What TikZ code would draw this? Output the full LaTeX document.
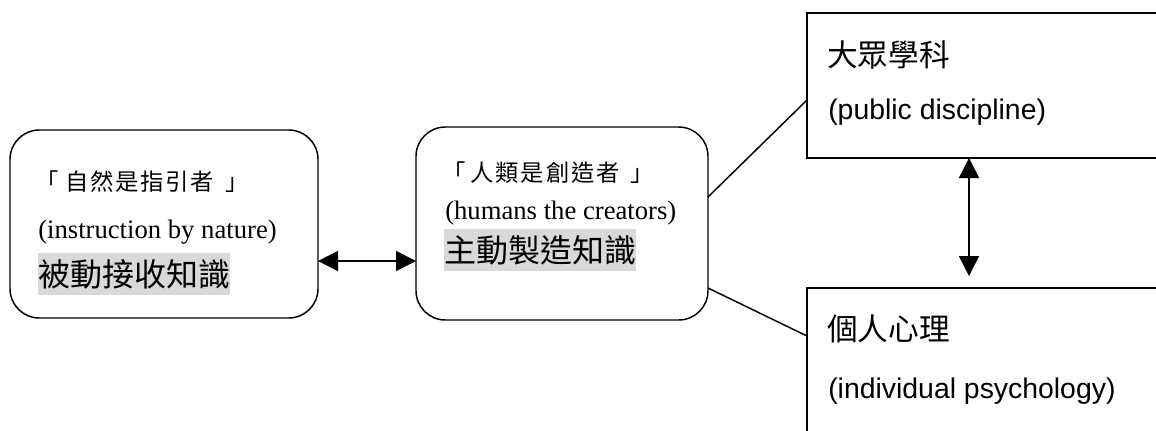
\documentclass[tikz,border=0pt]{standalone}
\usepackage{fontspec}
\setmainfont{Liberation Serif}
\setsansfont{Liberation Sans}
\newfontfamily\cjk{Noto Sans CJK TC}
\newfontfamily\cjksp[LetterSpace=7.3]{Noto Sans CJK TC}
\usetikzlibrary{arrows.meta}
\definecolor{hl}{HTML}{D9D9D9}
\tikzset{
  rbox/.style={draw, line width=1.1pt, rounded corners=22pt},
  sbox/.style={draw, line width=1.1pt},
  conn/.style={line width=1.1pt},
  dbl/.style={line width=1.1pt, {Triangle[length=15pt,width=15pt]}-{Triangle[length=15pt,width=15pt]}},
  txt/.style={anchor=west, inner sep=0pt},
  cjks/.style={txt, font=\cjksp\fontsize{17.5pt}{20pt}\selectfont},
  cjkb/.style={txt, font=\cjk\fontsize{24pt}{26pt}\selectfont, fill=hl, minimum height=31pt},
  cjkr/.style={txt, font=\cjk\fontsize{23pt}{25pt}\selectfont},
  ens/.style={txt, font=\rmfamily\fontsize{20pt}{22pt}\selectfont},
  ensans/.style={txt, font=\sffamily\fontsize{21.3pt}{23pt}\selectfont},
}
\begin{document}
\begin{tikzpicture}[x=0.75pt,y=-0.75pt]
\useasboundingbox (0,0) rectangle (1156,430);
\clip (0,0) rectangle (1156,430);
% boxes
\draw[rbox] (10,130) rectangle (318,318);
\draw[rbox] (416,127) rectangle (708,320);
\draw[sbox] (807,13) rectangle (1170,158);
\draw[sbox] (807,288) rectangle (1170,450);
% anchor coordinates
\coordinate (b1r) at (318,261);
\coordinate (b2l) at (416,261);
\coordinate (b2a) at (708,197);
\coordinate (b2b) at (708,288);
\coordinate (b3l) at (807,100);
\coordinate (b4l) at (807,336);
\coordinate (b3b) at (969,158);
\coordinate (b4t) at (969,276);
% connectors
\draw[dbl] (b1r) -- (b2l);
\draw[conn] (b2a) -- (b3l);
\draw[conn] (b2b) -- (b4l);
\draw[dbl] (b3b) -- (b4t);
% texts box 1
\node[cjks] (t1a) at (35,182) {「\hspace{5pt}自然是指引者\hspace{9pt}」};
\node[ens] (t1b) at (38,232) {(instruction by nature)};
\node[cjkb] (t1c) at (38,274) {被動接收知識};
% texts box 2
\node[cjks] (t2a) at (442,173) {「\hspace{4pt}人類是創造者\hspace{8pt}」};
\node[ens] (t2b) at (445,213) {(humans the creators)};
\node[cjkb] (t2c) at (444,250) {主動製造知識};
% box 3
\node[cjkr] (t3a) at (827,55) {大眾學科};
\node[ensans] (t3b) at (828,112) {(public discipline)};
% box 4
\node[cjkr] (t4a) at (827,329) {個人心理};
\node[ensans] (t4b) at (828,391) {(individual psychology)};
\end{tikzpicture}
\end{document}
